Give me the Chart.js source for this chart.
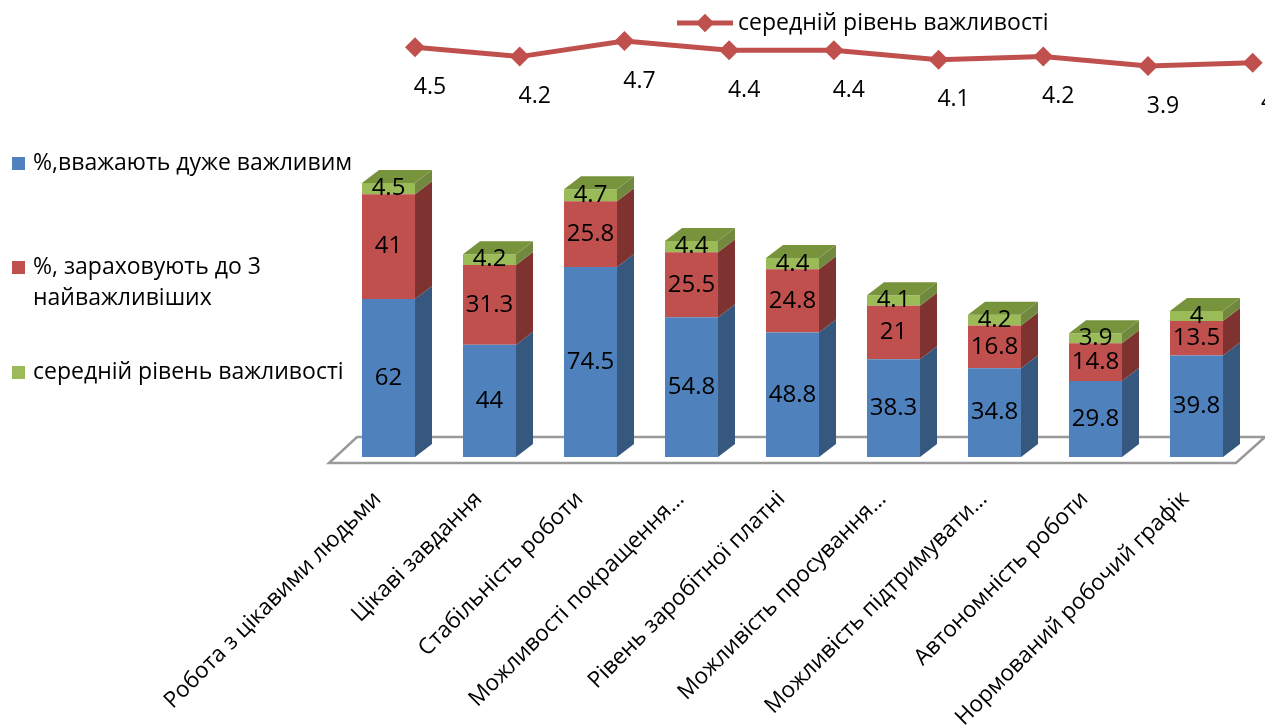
<!DOCTYPE html>
<html>
<head>
<meta charset="utf-8">
<script src="https://cdn.jsdelivr.net/npm/chart.js@4.4.1/dist/chart.umd.min.js"></script>
<style>
  html, body { margin: 0; padding: 0; background: #fff; overflow: hidden; }
  #wrap { position: relative; width: 1265px; height: 726px; overflow: hidden; background: #fff; }
  #bars, #line { position: absolute; left: 0; top: 0; }
</style>
</head>
<body>
<div id="wrap">
  <canvas id="bars" width="1265" height="726"></canvas>
  <canvas id="line" width="1400" height="140"></canvas>
</div>
<script>
// Job characteristics
const categories = [
  'Робота з цікавими людьми',
  'Цікаві завдання',
  'Стабільність роботи',
  'Можливості покращення…',
  'Рівень заробітної платні',
  'Можливість просування…',
  'Можливість підтримувати…',
  'Автономність роботи',
  'Нормований робочий графік'
];

// Series
const seriesNames = [
  '%,вважають дуже важливим',
  '%, зараховують до 3 найважливіших',
  'середній рівень важливості'
];
const veryImportant = [62, 44, 74.5, 54.8, 48.8, 38.3, 34.8, 29.8, 39.8];
const topThree      = [41, 31.3, 25.8, 25.5, 24.8, 21, 16.8, 14.8, 13.5];
const avgImportance = [4.5, 4.2, 4.7, 4.4, 4.4, 4.1, 4.2, 3.9, 4];

const FONT = '"Open Sans", "Noto Sans", sans-serif';
Chart.defaults.font.family = FONT;
Chart.defaults.color = '#000';

const faceColors = ['#4F81BD', '#C0504D', '#9BBB59'];
const sideColors = ['#36587F', '#7E3331', '#71893F'];
const topColor = '#77933C';
const DEPTH_X = 17, DEPTH_Y = -13;

// Floor of the 3-D plot area
const floorPlugin = {
  id: 'floor',
  beforeDatasetsDraw(chart) {
    const { ctx, chartArea: a } = chart;
    ctx.save();
    ctx.beginPath();
    ctx.moveTo(a.left - 9, a.bottom + 6);
    ctx.lineTo(a.right - 11, a.bottom + 6);
    ctx.lineTo(a.right + 18, a.bottom - 20);
    ctx.lineTo(a.left + 19, a.bottom - 20);
    ctx.closePath();
    ctx.fillStyle = '#ffffff';
    ctx.fill();
    ctx.lineWidth = 2.5;
    ctx.strokeStyle = '#9a9a9a';
    ctx.stroke();
    ctx.restore();
  }
};

// Side and top faces for the stacked columns, plus value labels
const columnPlugin = {
  id: 'columns3d',
  afterDatasetsDraw(chart) {
    const { ctx } = chart;
    const n = chart.data.datasets.length;
    ctx.save();
    for (let d = 0; d < n; d++) {
      const meta = chart.getDatasetMeta(d);
      meta.data.forEach(el => {
        const { x, y, base, width } = el.getProps(['x', 'y', 'base', 'width'], true);
        const r = x + width / 2, l = x - width / 2;
        ctx.beginPath();
        ctx.moveTo(r, y);
        ctx.lineTo(r + DEPTH_X, y + DEPTH_Y);
        ctx.lineTo(r + DEPTH_X, base + DEPTH_Y);
        ctx.lineTo(r, base);
        ctx.closePath();
        ctx.fillStyle = sideColors[d];
        ctx.fill();
        if (d === n - 1) {
          ctx.beginPath();
          ctx.moveTo(l, y);
          ctx.lineTo(l + DEPTH_X, y + DEPTH_Y);
          ctx.lineTo(r + DEPTH_X, y + DEPTH_Y);
          ctx.lineTo(r, y);
          ctx.closePath();
          ctx.fillStyle = topColor;
          ctx.fill();
        }
      });
    }
    ctx.font = '24px ' + FONT;
    ctx.fillStyle = '#000';
    ctx.textAlign = 'center';
    ctx.textBaseline = 'middle';
    for (let d = 0; d < n; d++) {
      const meta = chart.getDatasetMeta(d);
      meta.data.forEach((el, i) => {
        const { x, y, base } = el.getProps(['x', 'y', 'base'], true);
        ctx.fillText(String(chart.data.datasets[d].data[i]), x, (y + base) / 2);
      });
    }
    ctx.restore();
  }
};

// Legend stacked down the left side
const sideLegend = {
  id: 'sideLegend',
  afterDraw(chart) {
    const { ctx } = chart;
    const rows = [163, 267, 372];
    const lineH = 31, maxW = 340;
    ctx.save();
    ctx.font = '23px ' + FONT;
    ctx.textBaseline = 'middle';
    ctx.textAlign = 'left';
    chart.data.datasets.forEach((ds, i) => {
      const y0 = rows[i];
      ctx.fillStyle = ds.backgroundColor;
      ctx.fillRect(12, y0 - 6, 13, 13);
      const words = ds.label.split(' ');
      const lines = [];
      let cur = '';
      words.forEach(w => {
        const t = cur ? cur + ' ' + w : w;
        if (cur && ctx.measureText(t).width > maxW) { lines.push(cur); cur = w; }
        else cur = t;
      });
      lines.push(cur);
      ctx.fillStyle = '#000';
      lines.forEach((ln, k) => ctx.fillText(ln, 33, y0 + k * lineH));
    });
    ctx.restore();
  }
};

new Chart(document.getElementById('bars'), {
  type: 'bar',
  data: {
    labels: categories,
    datasets: [
      { label: seriesNames[0], data: veryImportant, backgroundColor: faceColors[0] },
      { label: seriesNames[1], data: topThree, backgroundColor: faceColors[1] },
      { label: seriesNames[2], data: avgImportance, backgroundColor: faceColors[2] }
    ]
  },
  options: {
    responsive: false,
    animation: false,
    devicePixelRatio: 1,
    layout: { padding: { left: 338, right: 18, top: 151, bottom: 0 } },
    datasets: { bar: { categoryPercentage: 1, barPercentage: 0.525, borderWidth: 0 } },
    scales: {
      x: {
        stacked: true,
        grid: { display: false, drawTicks: false },
        border: { display: false },
        ticks: {
          autoSkip: false,
          minRotation: 45,
          maxRotation: 45,
          padding: 29,
          labelOffset: -11,
          font: { size: 22.5, family: FONT },
          color: '#000'
        },
        afterFit(scale) { scale.height = 269; }
      },
      y: { stacked: true, display: false, min: 0, max: 120 }
    },
    plugins: { legend: { display: false }, tooltip: { enabled: false } }
  },
  plugins: [floorPlugin, columnPlugin, sideLegend]
});

// Average importance line, drawn above the columns
const lineLabels = {
  id: 'lineLabels',
  afterDatasetsDraw(chart) {
    const { ctx } = chart;
    const meta = chart.getDatasetMeta(0);
    ctx.save();
    ctx.font = '23px ' + FONT;
    ctx.fillStyle = '#000';
    ctx.textAlign = 'center';
    ctx.textBaseline = 'middle';
    meta.data.forEach((pt, i) => {
      ctx.fillText(String(chart.data.datasets[0].data[i]), pt.x + 15, pt.y + 40);
    });
    ctx.restore();
  }
};

const topLegend = {
  id: 'topLegend',
  afterDraw(chart) {
    const { ctx } = chart;
    const ds = chart.data.datasets[0];
    const y = 23;
    ctx.save();
    ctx.strokeStyle = ds.borderColor;
    ctx.lineWidth = 5;
    ctx.beginPath();
    ctx.moveTo(677, y);
    ctx.lineTo(733, y);
    ctx.stroke();
    ctx.fillStyle = ds.backgroundColor;
    Chart.helpers.drawPoint(ctx, { pointStyle: 'rectRot', radius: 9, rotation: 0, borderWidth: 0 }, 705, y);
    ctx.fill();
    ctx.font = '23px ' + FONT;
    ctx.fillStyle = '#000';
    ctx.textAlign = 'left';
    ctx.textBaseline = 'middle';
    ctx.fillText(ds.label, 738, y);
    ctx.restore();
  }
};

new Chart(document.getElementById('line'), {
  type: 'line',
  data: {
    labels: categories,
    datasets: [{
      label: seriesNames[2],
      data: avgImportance,
      borderColor: '#C0504D',
      backgroundColor: '#C0504D',
      borderWidth: 5,
      pointStyle: 'rectRot',
      pointRadius: 10,
      pointBorderWidth: 0,
      pointBackgroundColor: '#C0504D',
      tension: 0,
      clip: false
    }]
  },
  options: {
    responsive: false,
    animation: false,
    devicePixelRatio: 1,
    layout: { padding: { left: 415, right: 147.3, top: 31.6, bottom: 45.9 } },
    scales: {
      x: { display: false },
      y: { display: false, min: 3, max: 5 }
    },
    plugins: { legend: { display: false }, tooltip: { enabled: false } }
  },
  plugins: [lineLabels, topLegend]
});
</script>
</body>
</html>
